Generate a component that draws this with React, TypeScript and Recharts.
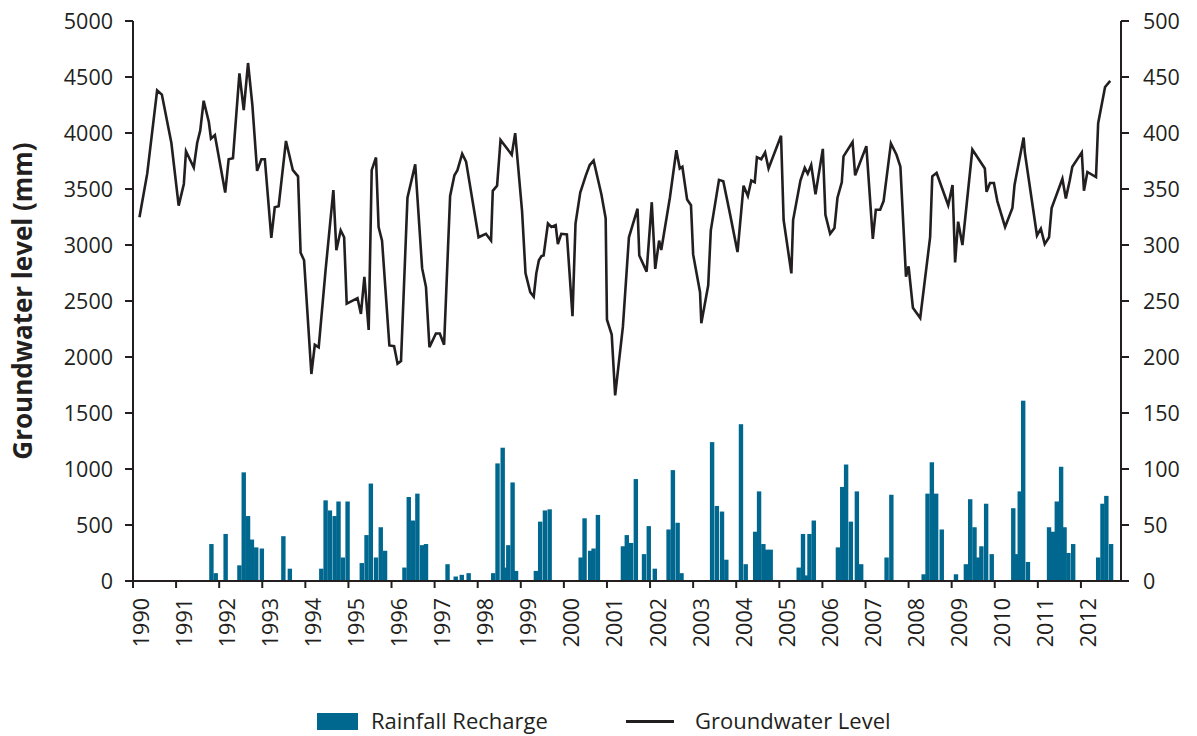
import React from 'react';
import { ComposedChart, Line, Bar, XAxis, YAxis } from 'recharts';

const LEVEL_YEARS = [
  1990.15, 1990.33, 1990.56, 1990.67, 1990.89, 1991.06, 1991.18, 1991.23, 1991.41, 1991.49,
  1991.56, 1991.64, 1991.76, 1991.81, 1991.9, 1992.14, 1992.22, 1992.32, 1992.47, 1992.57,
  1992.67, 1992.77, 1992.88, 1992.98, 1993.06, 1993.21, 1993.29, 1993.38, 1993.55, 1993.71,
  1993.83, 1993.89, 1993.97, 1994.14, 1994.22, 1994.31, 1994.47, 1994.65, 1994.72, 1994.82,
  1994.9, 1994.96, 1995.21, 1995.29, 1995.37, 1995.47, 1995.54, 1995.64, 1995.7, 1995.78,
  1995.95, 1996.06, 1996.14, 1996.22, 1996.37, 1996.55, 1996.71, 1996.8, 1996.88, 1997.03,
  1997.12, 1997.22, 1997.36, 1997.46, 1997.53, 1997.64, 1997.73, 1998.02, 1998.19, 1998.31,
  1998.35, 1998.45, 1998.53, 1998.79, 1998.87, 1999.03, 1999.11, 1999.22, 1999.3, 1999.36,
  1999.42, 1999.48, 1999.53, 1999.63, 1999.71, 1999.81, 1999.86, 1999.94, 2000.07, 2000.2,
  2000.27, 2000.38, 2000.51, 2000.6, 2000.69, 2000.87, 2000.97, 2001.0, 2001.11, 2001.19,
  2001.37, 2001.51, 2001.71, 2001.75, 2001.92, 2002.04, 2002.12, 2002.21, 2002.26, 2002.46,
  2002.61, 2002.69, 2002.75, 2002.86, 2002.95, 2003.0, 2003.16, 2003.19, 2003.35, 2003.41,
  2003.6, 2003.7, 2003.86, 2004.03, 2004.17, 2004.27, 2004.35, 2004.43, 2004.48, 2004.58,
  2004.67, 2004.75, 2005.04, 2005.1, 2005.28, 2005.32, 2005.49, 2005.59, 2005.66, 2005.74,
  2005.84, 2006.01, 2006.07, 2006.18, 2006.28, 2006.35, 2006.45, 2006.49, 2006.7, 2006.76,
  2007.02, 2007.17, 2007.24, 2007.34, 2007.42, 2007.59, 2007.72, 2007.81, 2007.94, 2008.0,
  2008.1, 2008.27, 2008.5, 2008.55, 2008.65, 2008.92, 2009.02, 2009.08, 2009.15, 2009.25,
  2009.48, 2009.77, 2009.81, 2009.89, 2009.98, 2010.06, 2010.24, 2010.41, 2010.46, 2010.67,
  2010.7, 2010.98, 2011.07, 2011.16, 2011.26, 2011.32, 2011.57, 2011.65, 2011.74, 2011.8,
  2012.02, 2012.07, 2012.15, 2012.35, 2012.4, 2012.56, 2012.68,
];

const LEVELS = [
  3247, 3637, 4380, 4343, 3913, 3352, 3545, 3837, 3692, 3913,
  4021, 4288, 4098, 3950, 3981, 3468, 3766, 3775, 4533, 4205,
  4625, 4251, 3662, 3766, 3766, 3063, 3336, 3346, 3929, 3668,
  3613, 2931, 2864, 1848, 2109, 2087, 2778, 3490, 2953, 3131,
  3069, 2477, 2526, 2385, 2716, 2241, 3668, 3781, 3161, 3039,
  2103, 2097, 1940, 1964, 3422, 3720, 2793, 2624, 2087, 2210,
  2210, 2109, 3438, 3622, 3668, 3815, 3745, 3069, 3100, 3039,
  3484, 3530, 3938, 3806, 3999, 3300, 2747, 2578, 2538, 2747,
  2864, 2901, 2907, 3192, 3161, 3177, 3008, 3100, 3094, 2364,
  3192, 3468, 3622, 3714, 3754, 3453, 3238, 2333, 2201, 1658,
  2271, 3069, 3324, 2907, 2762, 3382, 2787, 3039, 2956, 3422,
  3846, 3683, 3699, 3407, 3355, 2916, 2578, 2302, 2640, 3131,
  3582, 3570, 3269, 2937, 3530, 3438, 3576, 3560, 3784, 3766,
  3827, 3683, 3975, 3223, 2747, 3223, 3576, 3689, 3637, 3714,
  3453, 3858, 3269, 3100, 3152, 3422, 3560, 3791, 3920, 3622,
  3883, 3054, 3315, 3315, 3392, 3907, 3806, 3699, 2716, 2809,
  2440, 2348, 3069, 3613, 3643, 3355, 3536, 2845, 3208, 3000,
  3852, 3683, 3475, 3554, 3554, 3392, 3161, 3330, 3539, 3959,
  3821, 3085, 3146, 3008, 3069, 3330, 3591, 3416, 3576, 3699,
  3827, 3484, 3652, 3606, 4088, 4411, 4466,
];

const RECHARGE_YEARS = [
  1991.82, 1991.92, 1992.15, 1992.47, 1992.57, 1992.67, 1992.76, 1992.86, 1992.99, 1993.49,
  1993.64, 1994.37, 1994.47, 1994.57, 1994.68, 1994.77, 1994.87, 1994.98, 1995.31, 1995.42,
  1995.52, 1995.64, 1995.75, 1995.85, 1996.3, 1996.4, 1996.5, 1996.6, 1996.71, 1996.8,
  1997.3, 1997.49, 1997.63, 1997.79, 1998.36, 1998.46, 1998.58, 1998.65, 1998.71, 1998.81,
  1998.89, 1999.35, 1999.45, 1999.56, 1999.67, 2000.39, 2000.48, 2000.61, 2000.69, 2000.79,
  2001.37, 2001.46, 2001.56, 2001.67, 2001.86, 2001.97, 2002.11, 2002.43, 2002.53, 2002.64,
  2002.73, 2003.44, 2003.55, 2003.67, 2003.77, 2004.11, 2004.22, 2004.44, 2004.53, 2004.63,
  2004.71, 2004.8, 2005.45, 2005.55, 2005.63, 2005.7, 2005.8, 2006.36, 2006.46, 2006.55,
  2006.66, 2006.8, 2006.9, 2007.49, 2007.6, 2008.35, 2008.44, 2008.54, 2008.64, 2008.77,
  2009.1, 2009.33, 2009.43, 2009.53, 2009.61, 2009.69, 2009.8, 2009.93, 2010.43, 2010.52,
  2010.58, 2010.66, 2010.77, 2011.26, 2011.35, 2011.44, 2011.54, 2011.62, 2011.71, 2011.82,
  2012.4, 2012.5, 2012.59, 2012.7,
];

const RECHARGE = [
  33, 7, 42, 14, 97, 58, 37, 30, 29, 40,
  11, 11, 72, 63, 58, 71, 21, 71, 16, 41,
  87, 21, 48, 27, 12, 75, 54, 78, 32, 33,
  15, 4, 5.5, 7, 7, 105, 119, 12, 32, 88,
  9, 9, 53, 63, 64, 21, 56, 27, 29, 59,
  31, 41, 34, 91, 24, 49, 11, 46, 99, 52,
  7, 124, 67, 62, 19, 140, 15, 44, 80, 33,
  28, 28, 12, 42, 5, 42, 54, 30, 84, 104,
  53, 80, 15, 21, 77, 6, 78, 106, 78, 46,
  6, 15, 73, 48, 21, 31, 69, 24, 65, 24,
  80, 161, 17, 48, 44, 71, 102, 48, 25, 33,
  21, 69, 76, 33,
];

const YEAR_TICKS = [
  1990, 1991, 1992, 1993, 1994, 1995, 1996, 1997, 1998, 1999, 2000, 2001,
  2002, 2003, 2004, 2005, 2006, 2007, 2008, 2009, 2010, 2011, 2012,
];
const LEVEL_TICKS = [0, 500, 1000, 1500, 2000, 2500, 3000, 3500, 4000, 4500, 5000];
const RECHARGE_TICKS = [0, 50, 100, 150, 200, 250, 300, 350, 400, 450, 500];

const INK = '#231f20';
const BLUE = '#00678f';
const FONT = '"Open Sans", "Noto Sans", sans-serif';
const BAR_W = 4.4;

type Row = { year: number; level?: number; recharge?: number };

const rows: Row[] = (() => {
  const m = new Map<number, Row>();
  LEVEL_YEARS.forEach((y, i) => {
    const r = m.get(y) ?? { year: y };
    r.level = LEVELS[i];
    m.set(y, r);
  });
  RECHARGE_YEARS.forEach((y, i) => {
    const r = m.get(y) ?? { year: y };
    r.recharge = RECHARGE[i];
    m.set(y, r);
  });
  return [...m.values()].sort((a, b) => a.year - b.year);
})();

const YearTick = (props: any) => {
  const { x, y, payload } = props;
  const tx = x + 7;
  return (
    <text
      x={tx}
      y={y}
      transform={`rotate(-90 ${tx} ${y})`}
      textAnchor="end"
      dominantBaseline="central"
      fill={INK}
      fontSize={21.5}
      fontFamily={FONT}
    >
      {payload.value}
    </text>
  );
};

const YLabel = (props: any) => {
  const vb = props.viewBox;
  const cx = 22;
  const cy = vb ? vb.y + vb.height / 2 : 301;
  return (
    <text
      x={cx}
      y={cy}
      transform={`rotate(-90 ${cx} ${cy})`}
      textAnchor="middle"
      dominantBaseline="central"
      fontWeight={700}
      fontSize={26}
      fill={INK}
      fontFamily={FONT}
    >
      Groundwater level (mm)
    </text>
  );
};

const RechargeBar = (props: any) => {
  const { x, y, width, height, fill } = props;
  if (height == null || !(height > 0)) return null;
  const cx = x + width / 2;
  return <rect x={cx - BAR_W / 2} y={y} width={BAR_W} height={height} fill={fill} />;
};

export default function App() {
  const tickStyle = { fill: INK, fontSize: 21.5, fontFamily: FONT };
  return (
    <div
      style={{
        position: 'absolute',
        left: 0,
        top: 0,
        width: 1197,
        height: 736,
        overflow: 'hidden',
        fontFamily: FONT,
        color: INK,
        background: '#fff',
      }}
    >
      <ComposedChart
        width={1197}
        height={698}
        data={rows}
        margin={{ top: 21, right: 16, bottom: 0, left: 0 }}
      >
        <XAxis
          dataKey="year"
          type="number"
          domain={[1990, 2012.93]}
          ticks={YEAR_TICKS}
          allowDataOverflow
          interval={0}
          height={117}
          tickSize={7}
          tickMargin={10}
          tick={<YearTick />}
          axisLine={{ stroke: INK, strokeWidth: 2 }}
          tickLine={{ stroke: INK, strokeWidth: 2 }}
        />
        <YAxis
          yAxisId="left"
          orientation="left"
          type="number"
          domain={[0, 5000]}
          ticks={LEVEL_TICKS}
          interval={0}
          width={133}
          tickSize={8}
          tickMargin={12}
          tick={tickStyle}
          axisLine={{ stroke: INK, strokeWidth: 2 }}
          tickLine={{ stroke: INK, strokeWidth: 2 }}
          label={{ content: <YLabel /> }}
        />
        <YAxis
          yAxisId="right"
          orientation="right"
          type="number"
          domain={[0, 500]}
          ticks={RECHARGE_TICKS}
          interval={0}
          width={60}
          tickSize={8}
          tickMargin={14}
          tick={{ ...tickStyle, textAnchor: 'start' }}
          axisLine={{ stroke: INK, strokeWidth: 2 }}
          tickLine={{ stroke: INK, strokeWidth: 2 }}
        />
        <Bar
          yAxisId="right"
          dataKey="recharge"
          fill={BLUE}
          shape={<RechargeBar />}
          isAnimationActive={false}
        />
        <Line
          yAxisId="left"
          type="linear"
          dataKey="level"
          stroke={INK}
          strokeWidth={2.6}
          dot={false}
          activeDot={false}
          connectNulls
          isAnimationActive={false}
        />
      </ComposedChart>
      <div style={{ position: 'absolute', left: 317, top: 713, width: 41, height: 17, background: BLUE }} />
      <div style={{ position: 'absolute', left: 371, top: 705, fontSize: 22, lineHeight: '30px', whiteSpace: 'nowrap' }}>
        Rainfall Recharge
      </div>
      <div style={{ position: 'absolute', left: 626, top: 720, width: 48, height: 2.5, background: INK }} />
      <div style={{ position: 'absolute', left: 695, top: 705, fontSize: 22, lineHeight: '30px', whiteSpace: 'nowrap' }}>
        Groundwater Level
      </div>
    </div>
  );
}
